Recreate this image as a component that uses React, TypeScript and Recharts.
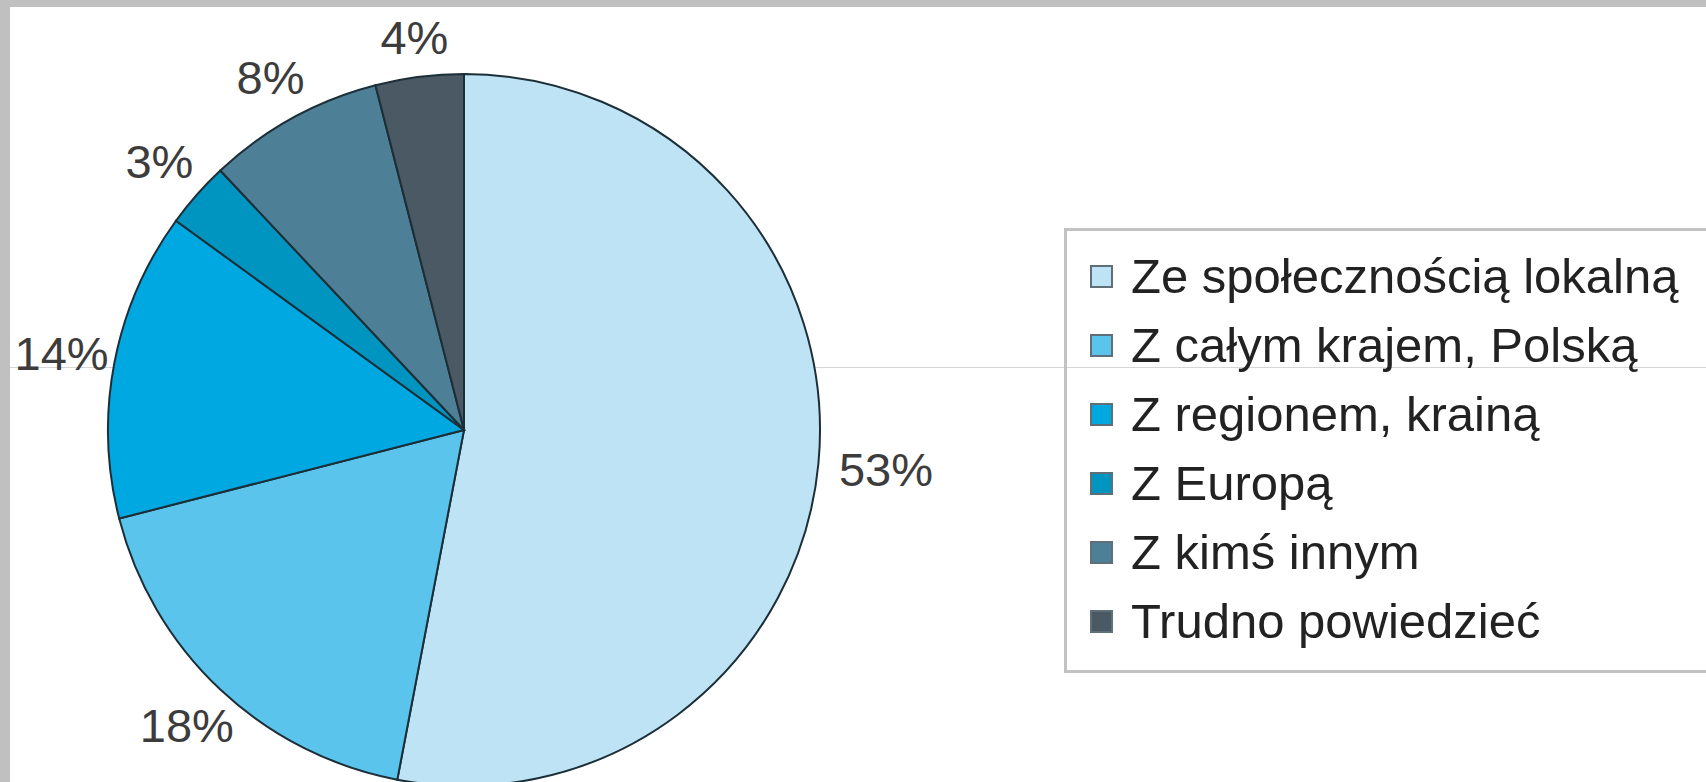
import React from 'react';
import { PieChart, Pie, Cell, Legend } from 'recharts';

const categories = [
  'Ze społecznością lokalną',
  'Z całym krajem, Polską',
  'Z regionem, krainą',
  'Z Europą',
  'Z kimś innym',
  'Trudno powiedzieć',
];
const values = [53, 18, 14, 3, 8, 4];
const valueLabels = ['53%', '18%', '14%', '3%', '8%', '4%'];
const colors = ['#bee3f4', '#5bc4ec', '#00a8e2', '#0095c0', '#4d7f96', '#4a5963'];

const data = categories.map((name, i) => ({ name, value: values[i] }));

const RAD = Math.PI / 180;
const FONT = '"Liberation Sans", Arial, sans-serif';

const renderLabel = (props: any) => {
  const { cx, cy, midAngle, outerRadius, index } = props;
  const c = Math.cos(-midAngle * RAD);
  const s = Math.sin(-midAngle * RAD);
  const d = outerRadius + 38 + 16 * Math.abs(c) + 14 * Math.max(c, 0);
  return (
    <text
      x={cx + d * c}
      y={cy + d * s}
      textAnchor="middle"
      dominantBaseline="central"
      fontFamily={FONT}
      fontSize={47}
      fill="#3c3c3c"
    >
      {valueLabels[index]}
    </text>
  );
};

const LegendContent = () => (
  <div
    style={{
      boxSizing: 'border-box',
      width: 700,
      height: 445,
      border: '3px solid #c2c2c2',
      paddingTop: 11,
      fontFamily: FONT,
    }}
  >
    {categories.map((name, i) => (
      <div
        key={name}
        style={{ display: 'flex', alignItems: 'center', height: 69 }}
      >
        <div
          style={{
            boxSizing: 'border-box',
            width: 23,
            height: 23,
            marginLeft: 23,
            marginRight: 18,
            background: colors[i],
            border: '2px solid #5e6f78',
          }}
        />
        <span style={{ fontSize: 49, color: '#222', whiteSpace: 'nowrap', lineHeight: '69px' }}>{name}</span>
      </div>
    ))}
  </div>
);

export default function App() {
  return (
    <div
      style={{
        position: 'absolute',
        left: 0,
        top: 0,
        width: 1706,
        height: 782,
        overflow: 'hidden',
        background: '#ffffff',
      }}
    >
      <div style={{ position: 'absolute', left: 0, top: 0, width: 1706, height: 7, background: '#c0c0c0' }} />
      <div style={{ position: 'absolute', left: 0, top: 0, width: 10, height: 782, background: '#c0c0c0' }} />
      <div style={{ position: 'absolute', left: 10, top: 367, width: 1696, height: 1, background: '#d6d6d6' }} />
      <div style={{ position: 'absolute', left: 0, top: 0 }}>
        <PieChart width={1706} height={782} margin={{ top: 0, right: 0, bottom: 0, left: 0 }}>
          <Pie
            data={data}
            dataKey="value"
            nameKey="name"
            cx={464}
            cy={430}
            outerRadius={356}
            startAngle={90}
            endAngle={-270}
            stroke="#1c2f38"
            strokeWidth={2}
            label={renderLabel}
            labelLine={false}
            isAnimationActive={false}
          >
            {data.map((d, i) => (
              <Cell key={d.name} fill={colors[i]} />
            ))}
          </Pie>
          <Legend
            layout="vertical"
            align="right"
            verticalAlign="middle"
            content={<LegendContent />}
            wrapperStyle={{ position: 'absolute', left: 1064, top: 228, width: 700, height: 445, margin: 0 }}
          />
        </PieChart>
      </div>
    </div>
  );
}
